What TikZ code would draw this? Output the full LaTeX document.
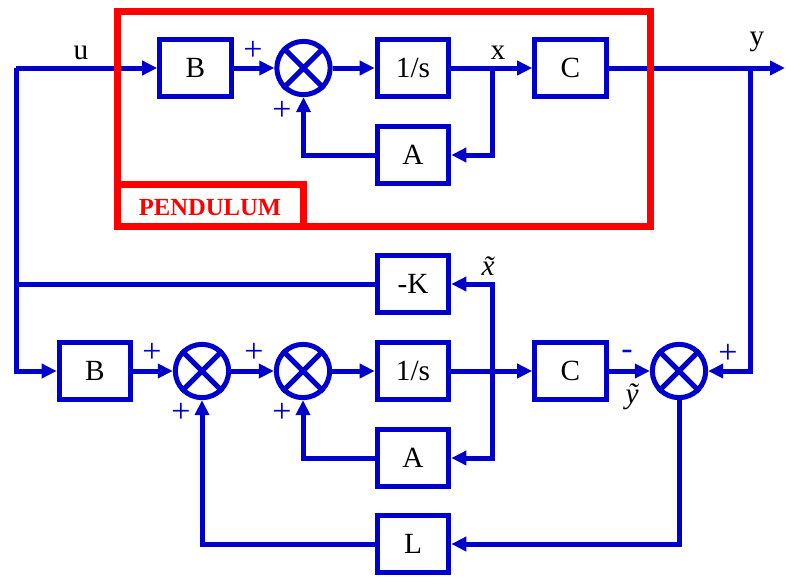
\documentclass[tikz,border=0pt]{standalone}
\usepackage{fontspec}
\setmainfont{Liberation Serif}
\usetikzlibrary{arrows.meta}
\definecolor{wireblue}{RGB}{0,0,204}
\definecolor{framered}{RGB}{255,0,0}
\newcommand{\blockfont}{\fontsize{25}{30}\selectfont}
\newcommand{\signfont}{\fontsize{29}{34}\selectfont}
\newcommand{\tagfont}{\fontsize{21}{25}\selectfont\bfseries}

\begin{document}
\begin{tikzpicture}[x=0.03cm, y=-0.03cm,
block/.style={draw=wireblue, line width=0.15cm, minimum width=2.15cm,
minimum height=1.7cm, inner sep=0pt, font=\blockfont},
sumnode/.style={circle, draw=wireblue, line width=0.15cm,
minimum size=1.6cm, inner sep=0pt},
wire/.style={draw=wireblue, line width=0.15cm},
flow/.style={wire, -{Triangle[length=0.45cm, width=0.42cm]}},
sign/.style={text=wireblue, font=\signfont, inner sep=0pt},
lbl/.style={font=\blockfont, inner sep=0pt},
frame/.style={draw=framered, line width=0.21cm}
]
\useasboundingbox (0,0) rectangle (786,576);

% pendulum (plant)
\node[block] (B1) at (195.5,68) {B};
\node[sumnode] (S1) at (303.5,68) {};
\node[block] (I1) at (413,68) {1/s};
\node[block] (C1) at (570.5,68) {C};
\node[block] (A1) at (413,155) {A};

% observer
\node[block] (K) at (413,284) {-K};
\node[block] (B2) at (95,371) {B};
\node[sumnode] (S2) at (202,371) {};
\node[sumnode] (S3) at (303,371) {};
\node[block] (I2) at (413,371) {1/s};
\node[block] (C2) at (570.5,371) {C};
\node[sumnode] (S4) at (679,371) {};
\node[block] (A2) at (413,458) {A};
\node[block] (L) at (413,544) {L};

\foreach \s in {S1,S2,S3,S4}
  \draw[wire] (\s.north east) -- (\s.south west) (\s.north west) -- (\s.south east);

\coordinate (ul) at (16,68);
\coordinate (xb) at (492,68);
\coordinate (yb) at (750,68);
\coordinate (yout) at (785,68);
\coordinate (xt) at (492,371);

% plant wiring
\draw[flow] (ul) -- (B1);
\draw[flow] (B1) -- (S1);
\draw[flow] (S1) -- (I1);
\draw[flow] (I1) -- (C1);
\draw[flow] (xb) |- (A1);
\draw[flow] (A1) -| (S1);
\draw[flow] (C1) -- (yout);

% observer wiring
\draw[flow] (ul) |- (B2);
\draw[wire] (K) -- (K -| ul);
\draw[flow] (B2) -- (S2);
\draw[flow] (S2) -- (S3);
\draw[flow] (S3) -- (I2);
\draw[flow] (I2) -- (C2);
\draw[flow] (C2) -- (S4);
\draw[flow] (xt) |- (K);
\draw[flow] (xt) |- (A2);
\draw[flow] (A2) -| (S3);
\draw[flow] (yb) |- (S4);
\draw[flow] (S4) |- (L);
\draw[flow] (L) -| (S2);

% signs
\node[sign] (p1) at (253,51) {+};
\node[sign] (p2) at (282,111) {+};
\node[sign] (p3) at (152,353) {+};
\node[sign] (p4) at (181,413) {+};
\node[sign] (p5) at (254,353) {+};
\node[sign] (p6) at (282,413) {+};
\node[sign] (m1) at (627,355) {-};
\node[sign] (p7) at (728,354) {+};

% signal labels
\node[lbl] (lu) at (81,53) {u};
\node[lbl] (lx) at (498,53) {x};
\node[lbl] (ly) at (757,42) {y};
\node[lbl] (lxt) at (488,266) {\itshape\~{x}};
\node[lbl] (lyt) at (632,397) {\itshape\~{y}};

% frame
\draw[frame] (117,11) rectangle (650,226);
\draw[frame] (117,184) rectangle (303,226);
\node[text=framered, font=\tagfont, inner sep=0pt] (tag) at (210,208) {PENDULUM};

\end{tikzpicture}
\end{document}
